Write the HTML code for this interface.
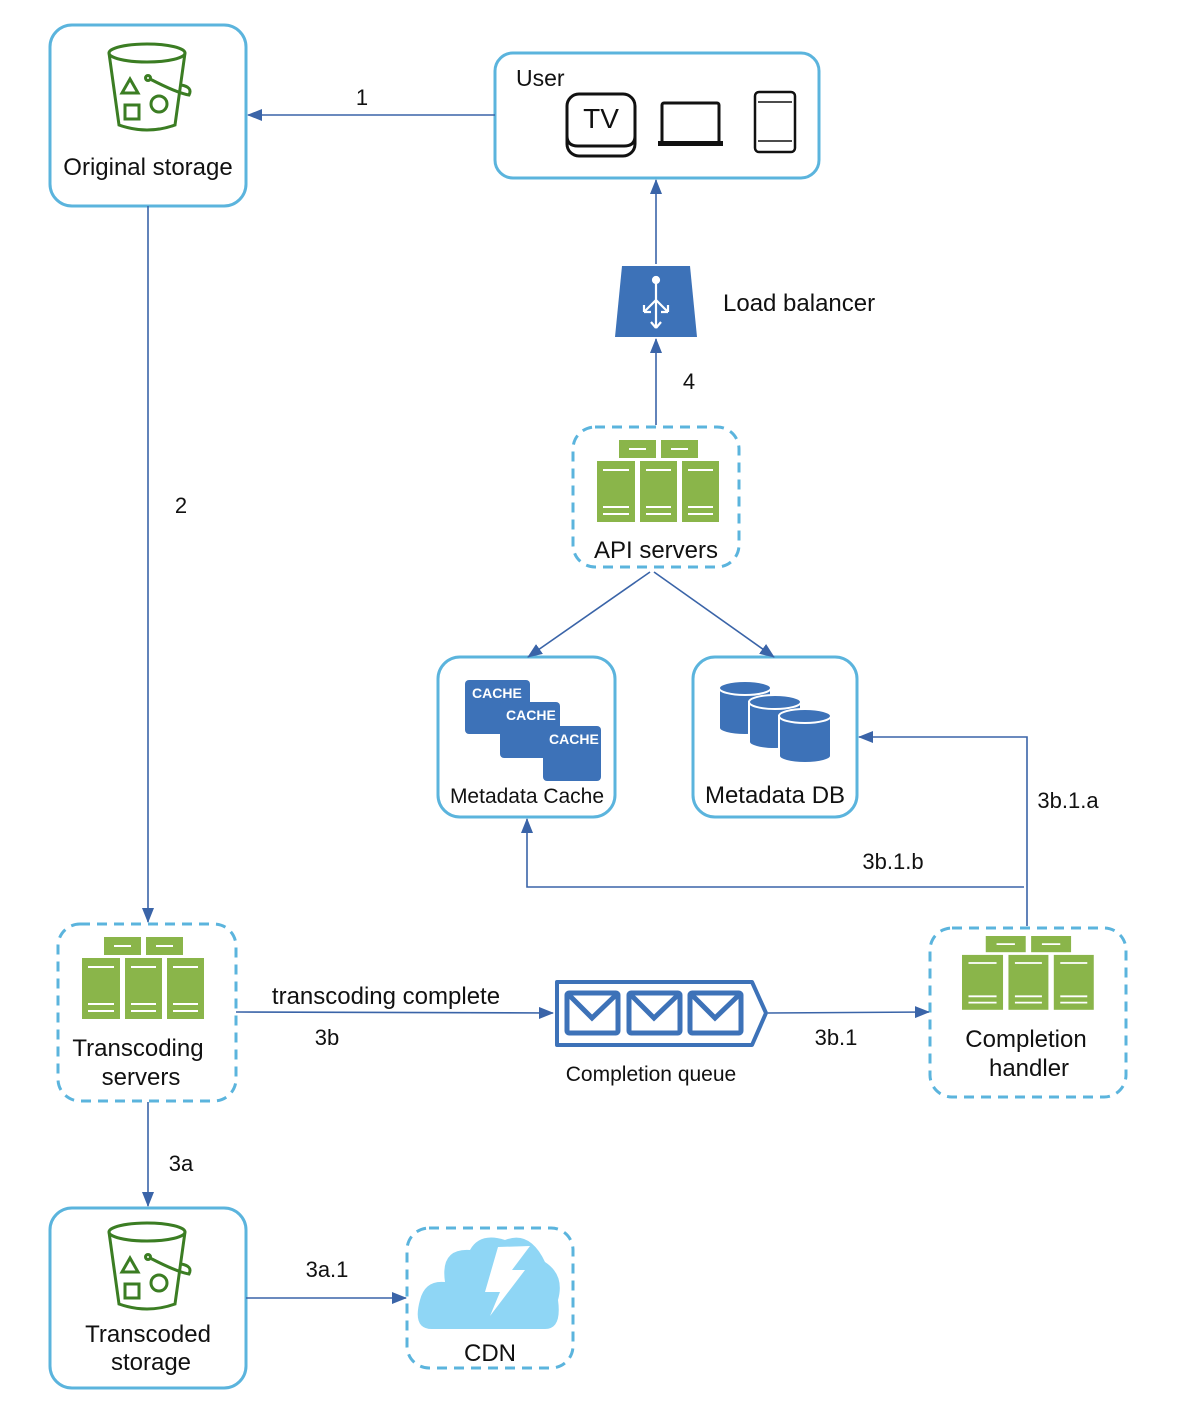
<!DOCTYPE html>
<html><head><meta charset="utf-8"><style>
html,body{margin:0;padding:0;background:#fff;}
svg{display:block;font-family:"Liberation Sans",sans-serif;}
</style></head><body>
<svg width="1196" height="1414" viewBox="0 0 1196 1414" xmlns="http://www.w3.org/2000/svg">
<defs>
<marker id="ar" markerWidth="15" markerHeight="12" refX="14" refY="6" orient="auto" markerUnits="userSpaceOnUse">
<path d="M0,0 L15,6 L0,12 z" fill="#3a64a8"/></marker>
<g id="bucket" fill="none" stroke="#3b7d23" stroke-width="3">
<ellipse cx="40" cy="10" rx="38" ry="9"/>
<path d="M2,10 L12,82 Q40,92 68,82 L78,10"/>
<path d="M23,36 L31,50 L15,50 z"/>
<rect x="18" y="62" width="14" height="14"/>
<circle cx="52" cy="61" r="8"/>
<circle cx="41" cy="35" r="2.5"/>
<path d="M43,36 Q70,50 82,52 Q86,44 74,42"/>
</g>
<g id="srv">
<rect x="22" y="0" width="37" height="18" fill="#8ab54a"/>
<rect x="64" y="0" width="37" height="18" fill="#8ab54a"/>
<rect x="0" y="21" width="38" height="61" fill="#8ab54a"/>
<rect x="43" y="21" width="37" height="61" fill="#8ab54a"/>
<rect x="85" y="21" width="37" height="61" fill="#8ab54a"/>
<g stroke="#fff" stroke-width="2">
<path d="M32,9H49M74,9H91M6,30H32M49,30H74M91,30H116M6,67H32M49,67H74M91,67H116M6,74H32M49,74H74M91,74H116"/>
</g>
</g>
</defs>

<g fill="none" stroke="#5bb4dd" stroke-width="3">
<rect x="50" y="25" width="196" height="181" rx="22"/>
<rect x="495" y="53" width="324" height="125" rx="18"/>
<rect x="438" y="657" width="177" height="160" rx="22"/>
<rect x="693" y="657" width="164" height="160" rx="22"/>
<rect x="50" y="1208" width="196" height="180" rx="22"/>
</g>
<g fill="none" stroke="#5bb4dd" stroke-width="3" stroke-dasharray="10,7">
<rect x="573" y="427" width="166" height="140" rx="22"/>
<rect x="58" y="924" width="178" height="177" rx="22"/>
<rect x="930" y="928" width="196" height="169" rx="22"/>
<rect x="407" y="1228" width="166" height="140" rx="22"/>
</g>

<use href="#bucket" x="107" y="43"/>
<use href="#bucket" x="107" y="1222"/>
<use href="#srv" x="597" y="440"/>
<use href="#srv" x="82" y="937"/>
<g transform="translate(962,936) scale(1.08,0.9)"><use href="#srv"/></g>

<g fill="none" stroke="#111" stroke-width="3">
<rect x="567" y="94" width="68" height="62" rx="12"/>
<path d="M567,136 Q567,146 578,146 L624,146 Q635,146 635,136"/>
<rect x="662" y="103" width="57" height="40" rx="2"/>
<rect x="755" y="92" width="40" height="60" rx="4" stroke-width="2.5"/>
</g>
<rect x="658" y="141" width="65" height="5" fill="#111"/>
<path d="M758,102H792M758,141H792" stroke="#111" stroke-width="1.5"/>
<text x="601" y="128" font-size="28" text-anchor="middle" fill="#111">TV</text>
<text x="516" y="86" font-size="23" fill="#111">User</text>

<path d="M622,266 L690,266 L697,337 L615,337 z" fill="#3d72b8"/>
<g stroke="#fff" stroke-width="2.2" fill="none">
<circle cx="656" cy="280" r="3" fill="#fff"/>
<path d="M656,283V328M656,328l-5,-6M656,328l5,-6M656,300l-12,12M656,300l12,12M644,312v-7M644,312h7M668,312v-7M668,312h-7"/>
</g>
<text x="723" y="311" font-size="24" fill="#111">Load balancer</text>

<g fill="#3d72b8">
<rect x="465" y="680" width="65" height="54" rx="4"/>
<rect x="500" y="702" width="60" height="56" rx="4"/>
<rect x="543" y="726" width="58" height="55" rx="4"/>
</g>
<g fill="#fff" font-size="14" font-weight="bold">
<text x="472" y="698">CACHE</text><text x="506" y="720">CACHE</text><text x="549" y="744">CACHE</text>
</g>
<g fill="#3d72b8" stroke="#fff" stroke-width="2">
<path d="M719,688 v40 a26,7 0 0 0 52,0 v-40 z"/><ellipse cx="745" cy="688" rx="26" ry="7"/>
<path d="M749,702 v40 a26,7 0 0 0 52,0 v-40 z"/><ellipse cx="775" cy="702" rx="26" ry="7"/>
<path d="M779,716 v40 a26,7 0 0 0 52,0 v-40 z"/><ellipse cx="805" cy="716" rx="26" ry="7"/>
</g>

<path d="M557,982 L752,982 L766,1013 L752,1045 L557,1045 z" fill="none" stroke="#3d72b8" stroke-width="4" stroke-linejoin="round"/>
<g fill="none" stroke="#3d72b8" stroke-width="5">
<rect x="567" y="993" width="51" height="40" rx="2"/>
<path d="M567,993 L592,1018 L618,993"/>
<rect x="629" y="993" width="51" height="40" rx="2"/>
<path d="M629,993 L654,1018 L680,993"/>
<rect x="690" y="993" width="51" height="40" rx="2"/>
<path d="M690,993 L715,1018 L741,993"/>
</g>

<path d="M432,1329 Q412,1329 420,1300 Q425,1280 445,1282 Q440,1248 470,1250 Q480,1232 505,1240 Q530,1230 545,1262 Q565,1275 558,1300 Q562,1329 545,1329 z" fill="#8fd6f5"/>
<path d="M498,1247 L485,1292 L500,1292 L490,1316 L525,1270 L512,1270 L530,1246 z" fill="#fff"/>

<g stroke="#3a64a8" stroke-width="1.6" fill="none" marker-end="url(#ar)">
<path d="M495,115 H248"/>
<path d="M148,206 V922"/>
<path d="M656,264 V180"/>
<path d="M656,425 V339"/>
<path d="M650,572 L528,657"/>
<path d="M654,572 L774,657"/>
<path d="M1027,926 V737 H859"/>
<path d="M1024,887 H527 V819"/>
<path d="M236,1012 L553,1013"/>
<path d="M768,1013 L929,1012"/>
<path d="M148,1102 V1206"/>
<path d="M246,1298 H406"/>
</g>

<g fill="#111" font-size="24">
<text x="148" y="175" text-anchor="middle">Original storage</text>
<text x="362" y="105" text-anchor="middle" font-size="22">1</text>
<text x="181" y="513" text-anchor="middle" font-size="22">2</text>
<text x="689" y="389" text-anchor="middle" font-size="22">4</text>
<text x="656" y="558" text-anchor="middle">API servers</text>
<text x="527" y="803" text-anchor="middle" font-size="21">Metadata Cache</text>
<text x="775" y="803" text-anchor="middle">Metadata DB</text>
<text x="1068" y="808" text-anchor="middle" font-size="22">3b.1.a</text>
<text x="893" y="869" text-anchor="middle" font-size="22">3b.1.b</text>
<text x="386" y="1004" text-anchor="middle">transcoding complete</text>
<text x="327" y="1045" text-anchor="middle" font-size="22">3b</text>
<text x="836" y="1045" text-anchor="middle" font-size="22">3b.1</text>
<text x="651" y="1081" text-anchor="middle" font-size="21">Completion queue</text>
<text x="138" y="1056" text-anchor="middle">Transcoding</text>
<text x="141" y="1085" text-anchor="middle">servers</text>
<text x="1026" y="1047" text-anchor="middle">Completion</text>
<text x="1029" y="1076" text-anchor="middle">handler</text>
<text x="181" y="1171" text-anchor="middle" font-size="22">3a</text>
<text x="327" y="1277" text-anchor="middle" font-size="22">3a.1</text>
<text x="148" y="1342" text-anchor="middle">Transcoded</text>
<text x="151" y="1370" text-anchor="middle">storage</text>
<text x="490" y="1361" text-anchor="middle">CDN</text>
</g>
</svg>
</body></html>
